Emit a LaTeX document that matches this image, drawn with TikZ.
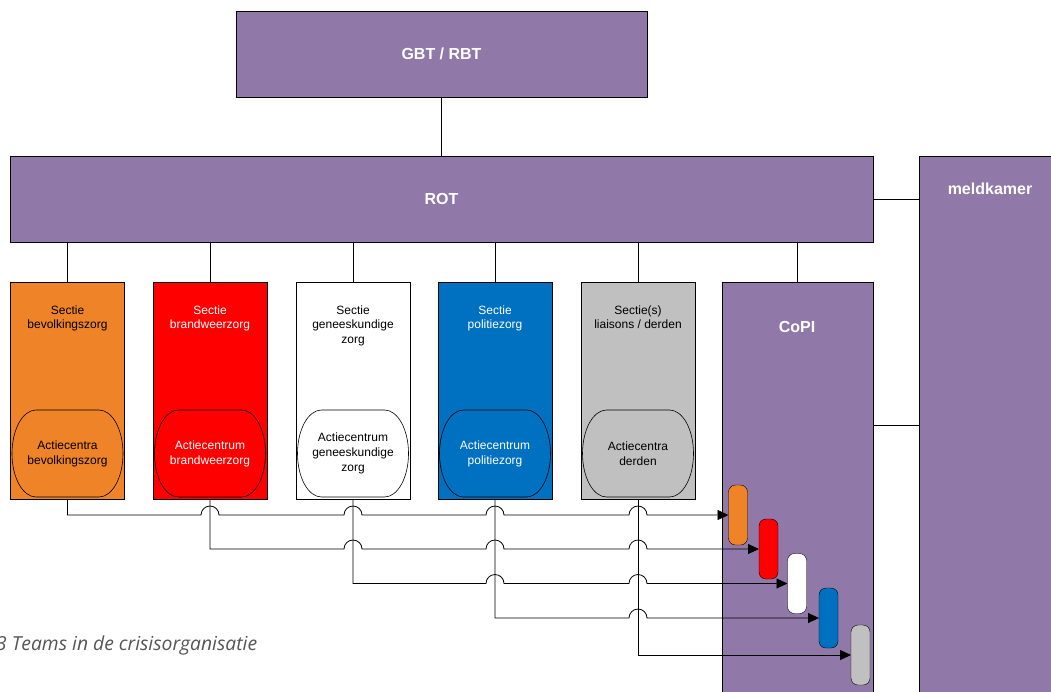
\documentclass[tikz,border=0pt]{standalone}
\usepackage{fontspec}
\setmainfont{Liberation Sans}
\newfontfamily\captionfont{Open Sans}
\usetikzlibrary{arrows.meta,calc}

\definecolor{vrpurple}{HTML}{9079A9}
\definecolor{bzorange}{HTML}{EE8327}
\definecolor{pzblue}{HTML}{0070C0}
\definecolor{ldgray}{HTML}{C0C0C0}
\definecolor{capgray}{HTML}{555555}

\tikzset{
  teambox/.style={draw, fill=vrpurple, inner sep=0pt},
  teamlabel/.style={text=white, font=\fontsize{16}{19}\selectfont\bfseries},
  sectiebox/.style={draw, minimum width=114pt, minimum height=217pt, inner sep=0pt},
  sectielabel/.style={anchor=north, align=center, inner sep=0pt, font=\fontsize{12}{14.5}\selectfont},
  actierand/.style={draw, line width=0.6pt},
  actielabel/.style={align=center, inner sep=0pt, font=\fontsize{12}{15}\selectfont},
  copibox/.style={draw, rounded corners=7pt, minimum width=19pt, minimum height=60pt, inner sep=0pt},
  tak/.style={line width=0.8pt},
  stroom/.style={line width=0.8pt, -{Triangle[length=11pt,width=10pt]}},
}

\begin{document}
\begin{tikzpicture}[x=1pt,y=-1pt]
\useasboundingbox (0,0) rectangle (1051,691);

% teams
\node[teambox, teamlabel, minimum width=411pt, minimum height=86pt] (gbt) at (441.5,54) {GBT / RBT};
\node[teambox, teamlabel, minimum width=863pt, minimum height=86pt] (rot) at (441.5,199) {ROT};
\node[teambox, minimum width=141pt, minimum height=548pt] (meld) at (989.5,430) {};
\node[teamlabel] (meldtxt) at (990,189) {meldkamer};
\node[teambox, minimum width=151pt, minimum height=418pt] (copi) at (797.5,491) {};
\node[teamlabel] (copitxt) at (797,327) {CoPI};

% secties
\node[sectiebox, fill=bzorange] (sbz) at (67.5,390.5) {};
\node[sectielabel] at (67.5,305.5) {Sectie\\bevolkingszorg};
\node[sectiebox, fill=red] (sbw) at (210,390.5) {};
\node[sectielabel, text=white] at (210,305.5) {Sectie\\brandweerzorg};
\node[sectiebox, fill=white] (sgz) at (353,390.5) {};
\node[sectielabel] at (353,305.5) {Sectie\\geneeskundige\\zorg};
\node[sectiebox, fill=pzblue] (spz) at (495,390.5) {};
\node[sectielabel, text=white] at (495,305.5) {Sectie\\politiezorg};
\node[sectiebox, fill=ldgray] (sld) at (638,390.5) {};
\node[sectielabel] at (638,305.5) {Sectie(s)\\liaisons / derden};

% actiecentra
\draw[actierand, fill=bzorange] (67.5,410) ++(-31.5,0) -- ++(63,0)
  arc[start angle=90, end angle=-90, x radius=24pt, y radius=43.5pt] -- ++(-63,0)
  arc[start angle=270, end angle=90, x radius=24pt, y radius=43.5pt] -- cycle;
\draw[actierand, fill=red] (210,410) ++(-31.5,0) -- ++(63,0)
  arc[start angle=90, end angle=-90, x radius=24pt, y radius=43.5pt] -- ++(-63,0)
  arc[start angle=270, end angle=90, x radius=24pt, y radius=43.5pt] -- cycle;
\draw[actierand, fill=white] (353,410) ++(-31.5,0) -- ++(63,0)
  arc[start angle=90, end angle=-90, x radius=24pt, y radius=43.5pt] -- ++(-63,0)
  arc[start angle=270, end angle=90, x radius=24pt, y radius=43.5pt] -- cycle;
\draw[actierand, fill=pzblue] (495,410) ++(-31.5,0) -- ++(63,0)
  arc[start angle=90, end angle=-90, x radius=24pt, y radius=43.5pt] -- ++(-63,0)
  arc[start angle=270, end angle=90, x radius=24pt, y radius=43.5pt] -- cycle;
\draw[actierand, fill=ldgray] (638,410) ++(-31.5,0) -- ++(63,0)
  arc[start angle=90, end angle=-90, x radius=24pt, y radius=43.5pt] -- ++(-63,0)
  arc[start angle=270, end angle=90, x radius=24pt, y radius=43.5pt] -- cycle;
\node[actielabel] (abz) at (67.5,453.5) {Actiecentra\\bevolkingszorg};
\node[actielabel, text=white] (abw) at (210,453.5) {Actiecentrum\\brandweerzorg};
\node[actielabel] (agz) at (353,453.5) {Actiecentrum\\geneeskundige\\zorg};
\node[actielabel, text=white] (apz) at (495,453.5) {Actiecentrum\\politiezorg};
\node[actielabel] (ald) at (638,453.5) {Actiecentra\\derden};

% lijnen
\draw[tak] (gbt.south) -- (rot.north);
\draw[tak] (rot.south -| sbz.north) -- (sbz.north);
\draw[tak] (rot.south -| sbw.north) -- (sbw.north);
\draw[tak] (rot.south -| sgz.north) -- (sgz.north);
\draw[tak] (rot.south -| spz.north) -- (spz.north);
\draw[tak] (rot.south -| sld.north) -- (sld.north);
\draw[tak] (rot.south -| copi.north) -- (copi.north);
\draw[tak] (rot.east) -- (rot.east -| meld.west);
\coordinate (copimeld) at (873,425);
\draw[tak] (copimeld) -- (copimeld -| meld.west);

% CoPI
\coordinate (pbzpos) at (738,515);
\coordinate (pbwpos) at (768.5,549);
\coordinate (pgzpos) at (797,583.5);
\coordinate (ppzpos) at (828.5,618);
\coordinate (pldpos) at (860.5,655);

\draw[stroom] (sbz.south) |- ($(sbw.south |- pbzpos)-(9,0)$)
  arc[start angle=180, end angle=0, radius=9pt]
  -- ($(sgz.south |- pbzpos)-(9,0)$)
  arc[start angle=180, end angle=0, radius=9pt]
  -- ($(spz.south |- pbzpos)-(9,0)$)
  arc[start angle=180, end angle=0, radius=9pt]
  -- ($(sld.south |- pbzpos)-(9,0)$)
  arc[start angle=180, end angle=0, radius=9pt]
  -- ($(pbzpos)-(9.5,0)$);
\draw[stroom] (sbw.south) |- ($(sgz.south |- pbwpos)-(9,0)$)
  arc[start angle=180, end angle=0, radius=9pt]
  -- ($(spz.south |- pbwpos)-(9,0)$)
  arc[start angle=180, end angle=0, radius=9pt]
  -- ($(sld.south |- pbwpos)-(9,0)$)
  arc[start angle=180, end angle=0, radius=9pt]
  -- ($(pbwpos)-(9.5,0)$);
\draw[stroom] (sgz.south) |- ($(spz.south |- pgzpos)-(9,0)$)
  arc[start angle=180, end angle=0, radius=9pt]
  -- ($(sld.south |- pgzpos)-(9,0)$)
  arc[start angle=180, end angle=0, radius=9pt]
  -- ($(pgzpos)-(9.5,0)$);
\draw[stroom] (spz.south) |- ($(sld.south |- ppzpos)-(9,0)$)
  arc[start angle=180, end angle=0, radius=9pt]
  -- ($(ppzpos)-(9.5,0)$);
\draw[stroom] (sld.south) |- ($(pldpos)-(9.5,0)$);

\node[copibox, fill=bzorange] (pbz) at (pbzpos) {};
\node[copibox, fill=red] (pbw) at (pbwpos) {};
\node[copibox, fill=white] (pgz) at (pgzpos) {};
\node[copibox, fill=pzblue] (ppz) at (ppzpos) {};
\node[copibox, fill=ldgray] (pld) at (pldpos) {};

\node[anchor=base west, inner sep=0pt, text=capgray, font=\captionfont\itshape\fontsize{19.3}{21}\selectfont] (bijschrift) at (-4,650) {3 Teams in de crisisorganisatie};

\end{tikzpicture}
\end{document}
